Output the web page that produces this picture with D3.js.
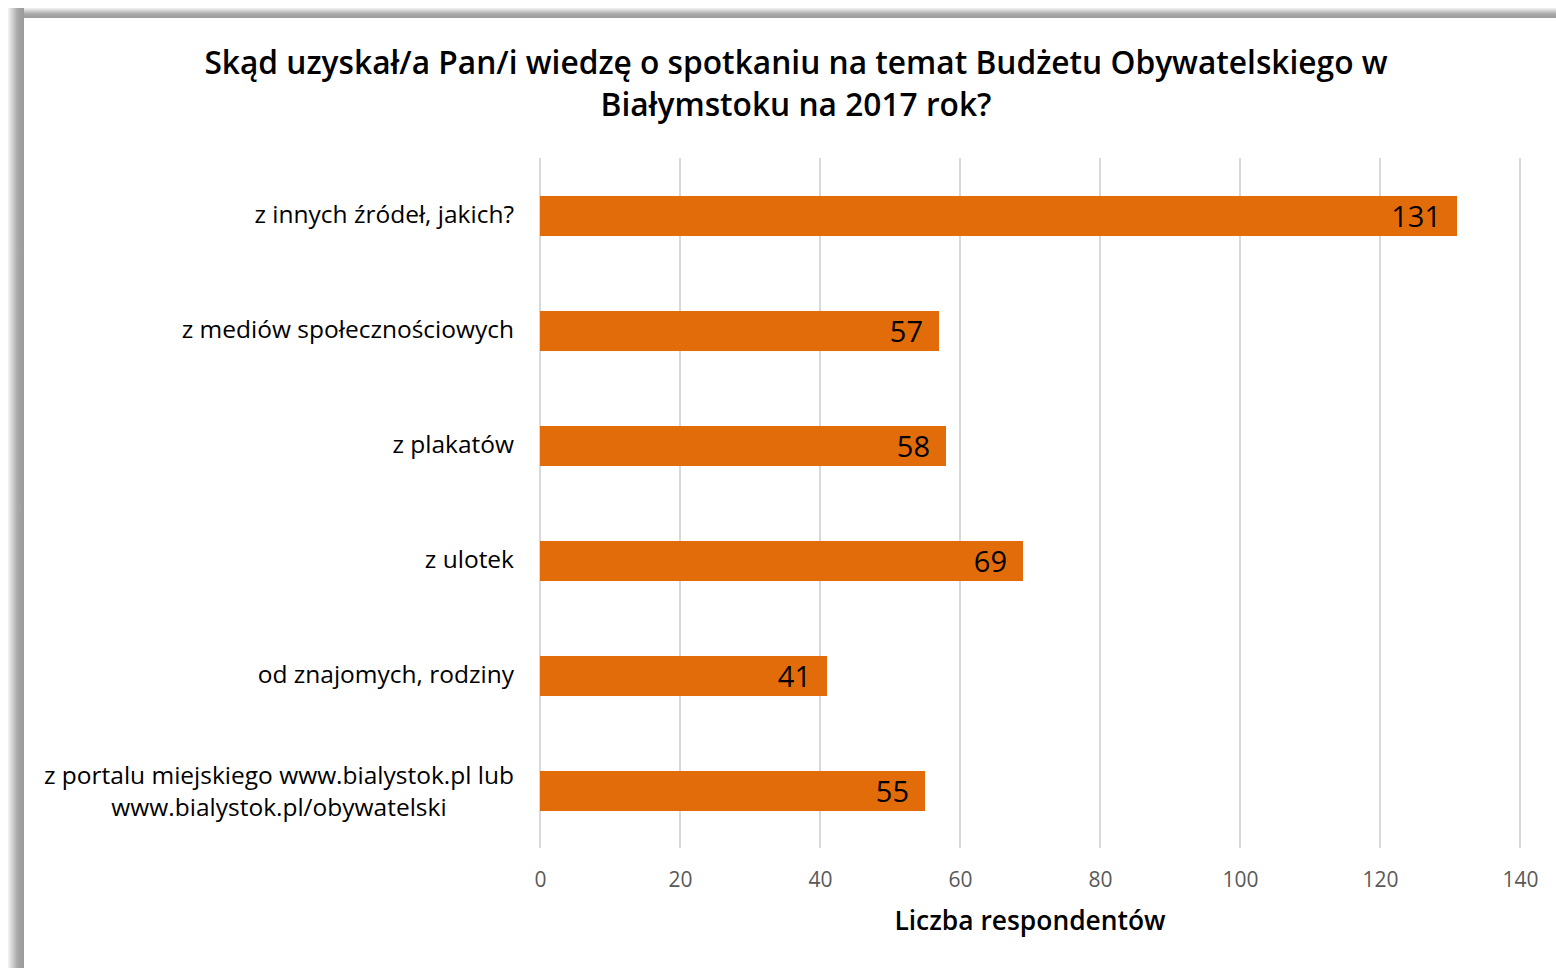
<!DOCTYPE html>
<html><head><meta charset="utf-8">
<script src="https://cdn.jsdelivr.net/npm/d3@7"></script>
<style>
html,body{margin:0;padding:0;background:#fff;}
svg{display:block;font-family:"Open Sans",sans-serif;}
</style></head>
<body>
<svg id="c" width="1556" height="968"></svg>
<script>
const categories = [
  "z innych źródeł, jakich?",
  "z mediów społecznościowych",
  "z plakatów",
  "z ulotek",
  "od znajomych, rodziny",
  "z portalu miejskiego www.bialystok.pl lub|www.bialystok.pl/obywatelski"
];
const values = [131, 57, 58, 69, 41, 55];
const xTicks = [0, 20, 40, 60, 80, 100, 120, 140];
const titleLines = ["Skąd uzyskał/a Pan/i wiedzę o spotkaniu na temat Budżetu Obywatelskiego w", "Białymstoku na 2017 rok?"];
const xTitle = "Liczba respondentów";

const svg = d3.select("#c");
const defs = svg.append("defs");
const gl = defs.append("linearGradient").attr("id","gL").attr("x1","0").attr("x2","1").attr("y1","0").attr("y2","0");
gl.append("stop").attr("offset","0").attr("stop-color","#f4f4f4");
gl.append("stop").attr("offset","0.6").attr("stop-color","#a8a8a8");
gl.append("stop").attr("offset","1").attr("stop-color","#9a9a9a");
const gt = defs.append("linearGradient").attr("id","gT").attr("x1","0").attr("x2","0").attr("y1","0").attr("y2","1");
gt.append("stop").attr("offset","0").attr("stop-color","#f4f4f4");
gt.append("stop").attr("offset","0.6").attr("stop-color","#a8a8a8");
gt.append("stop").attr("offset","1").attr("stop-color","#9a9a9a");
svg.append("rect").attr("x",0).attr("y",0).attr("width",1556).attr("height",968).attr("fill","#fff");
svg.append("rect").attr("x",8).attr("y",8).attr("width",1548).attr("height",10).attr("fill","url(#gT)");
svg.append("rect").attr("x",8).attr("y",8).attr("width",16).attr("height",960).attr("fill","url(#gL)");
svg.append("rect").attr("x",24).attr("y",18).attr("width",1532).attr("height",950).attr("fill","#fff");

const x = d3.scaleLinear().domain([0,140]).range([540,1520]);
const y = d3.scaleBand().domain(categories).range([158.5,848.5]).paddingInner(0.652).paddingOuter(0.326);

svg.append("g").selectAll("line").data(xTicks).join("line")
  .attr("x1",d=>x(d)).attr("x2",d=>x(d)).attr("y1",158).attr("y2",848)
  .attr("stroke","#d9d9d9").attr("stroke-width",2);

const ax = svg.append("g").attr("transform","translate(0,880)")
  .call(d3.axisBottom(x).tickValues(xTicks).tickSize(0).tickPadding(0));
ax.select(".domain").remove();
ax.selectAll("text").attr("font-size",21).attr("fill","#595959").attr("font-family","'Open Sans',sans-serif")
  .attr("font-stretch","88%").attr("dy","0.35em");

svg.append("g").selectAll("rect").data(values).join("rect")
  .attr("x",x(0)).attr("y",(d,i)=>y(categories[i]))
  .attr("width",d=>x(d)-x(0)).attr("height",y.bandwidth())
  .attr("fill","#e36c0a");

svg.append("g").selectAll("text").data(values).join("text")
  .attr("x",d=>x(d)-16).attr("y",(d,i)=>y(categories[i])+y.bandwidth()/2)
  .attr("dy","0.37em").attr("text-anchor","end").attr("font-stretch","88%")
  .attr("font-size",29).attr("font-weight",500).attr("fill","#000").text(d=>d);

const cl = svg.append("g").selectAll("text").data(categories).join("text")
  .attr("x",514).attr("y",d=>y(d)+y.bandwidth()/2)
  .attr("text-anchor","end").attr("font-size",24.5).attr("fill","#000");
cl.each(function(d){
  const parts = d.split("|");
  const t = d3.select(this);
  if(parts.length===1){ t.attr("dy","0.3em").text(d); }
  else{
    const a = t.append("tspan").attr("x",514).attr("dy","-0.3em").text(parts[0]);
    const w = a.node().getComputedTextLength();
    t.attr("text-anchor","middle");
    a.attr("x",514-w/2);
    t.append("tspan").attr("x",514-w/2).attr("dy","1.3em").text(parts[1]);
  }
});

svg.append("g").selectAll("text").data(titleLines).join("text")
  .attr("x",796).attr("y",(d,i)=>74+i*42).attr("text-anchor","middle")
  .attr("font-size",31.7).attr("font-weight",600).attr("font-stretch","92%").attr("fill","#000").text(d=>d);

svg.append("text").attr("x",1030).attr("y",930).attr("text-anchor","middle")
  .attr("font-size",26.4).attr("font-weight",600).attr("font-stretch","92%").attr("fill","#000").text(xTitle);
</script>
</body></html>
